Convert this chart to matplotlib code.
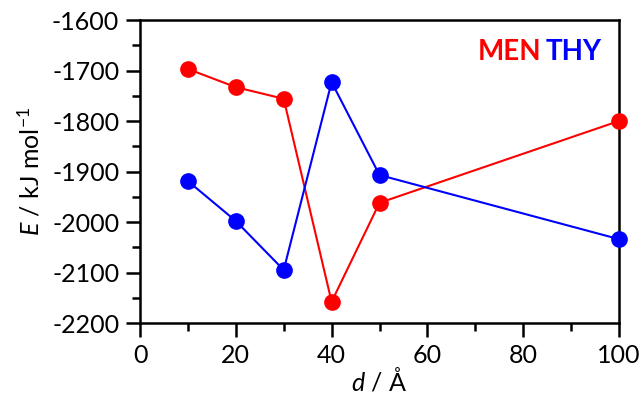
import numpy as np
import matplotlib
matplotlib.use('Agg')
from matplotlib import pyplot as plt
from matplotlib.ticker import MultipleLocator

d = [10, 20, 30, 40, 50, 100]
men = [-1697, -1733, -1756, -2158, -1962, -1800]
thy = [-1919, -1998, -2095, -1723, -1907, -2034]

plt.rcParams['font.family'] = ['Lato', 'DejaVu Sans']
plt.rcParams['axes.unicode_minus'] = False
plt.rcParams['mathtext.fontset'] = 'custom'
plt.rcParams['mathtext.it'] = 'Lato:italic'
plt.rcParams['mathtext.rm'] = 'Lato'

fig = plt.figure(figsize=(6.43, 4.11), dpi=100)
ax = fig.add_axes([140/643, 1 - 323/411, 479/643, 303/411])

ax.plot(d, men, '-o', color='red', lw=1.5, ms=11, clip_on=False, zorder=3)
ax.plot(d, thy, '-o', color='blue', lw=1.5, ms=11, clip_on=False, zorder=3)

ax.set_xlim(0, 100)
ax.set_ylim(-2200, -1600)
ax.xaxis.set_major_locator(MultipleLocator(20))
ax.xaxis.set_minor_locator(MultipleLocator(10))
ax.yaxis.set_major_locator(MultipleLocator(100))
ax.yaxis.set_minor_locator(MultipleLocator(50))
ax.tick_params(which='both', direction='out', width=1.8, labelsize=18, pad=5)
ax.tick_params(which='major', length=10)
ax.tick_params(which='minor', length=5.5)
for s in ax.spines.values():
    s.set_linewidth(1.8)

ax.set_xlabel(r'$\it{d}$ / Å', fontsize=18, labelpad=0)
ax.set_ylabel(r'$\it{E}$ / kJ mol$^{-1}$', fontsize=18, labelpad=6)

ax.text(0.705, 0.894, 'MEN', color='red', fontsize=20, fontweight='bold',
        transform=ax.transAxes, ha='left', va='center')
ax.text(0.847, 0.894, 'THY', color='blue', fontsize=20, fontweight='bold',
        transform=ax.transAxes, ha='left', va='center')

fig.savefig('out.png', dpi=100)
